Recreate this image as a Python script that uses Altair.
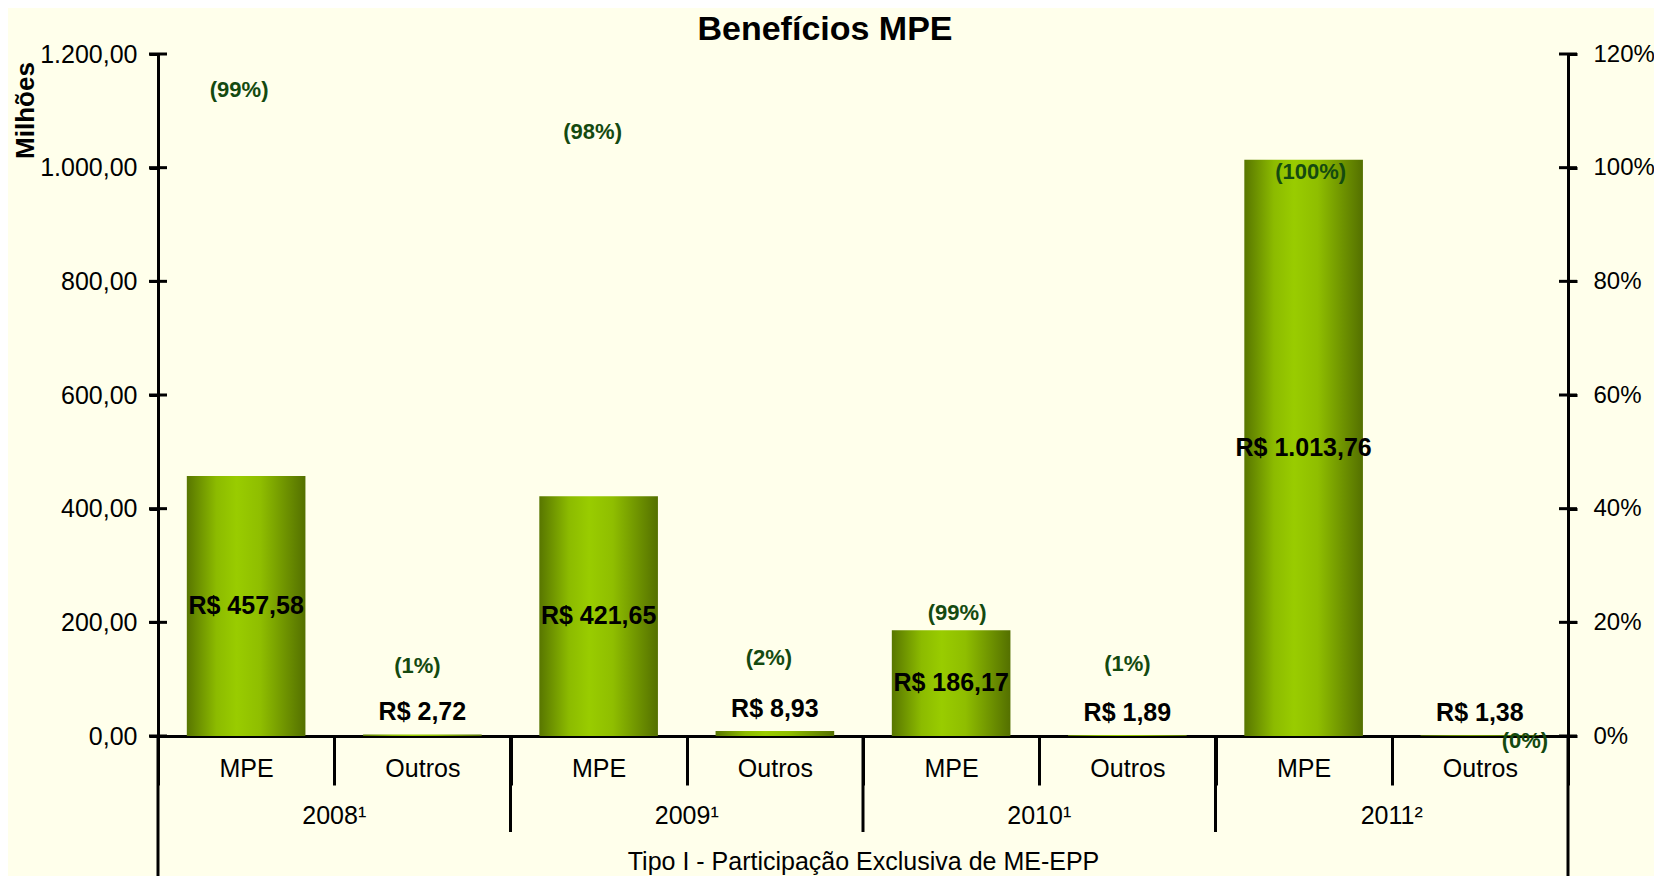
import altair as alt
import pandas as pd

# ---------------- data ----------------
years = ["2008¹", "2009¹", "2010¹", "2011²"]
groups = ["MPE", "Outros"]
values = [457.58, 2.72, 421.65, 8.93, 186.17, 1.89, 1013.76, 1.38]   # R$ milhões
shares = [99, 1, 98, 2, 99, 1, 100, 0]                               # % do ano
# where each (xx%) annotation sits, in units of the right (%) axis,
# and its sideways nudge (px) off the bar centre
share_label_at = [113.7, 12.3, 106.3, 13.7, 21.7, 12.7, 99.2, -0.9]
share_label_nudge = [-7, -5, -6, -6, 6, 0, 7, 45]
left_ticks = [0, 200, 400, 600, 800, 1000, 1200]
right_ticks = [0, 0.2, 0.4, 0.6, 0.8, 1.0, 1.2]

W, H = 1410, 682
FONT = "Liberation Sans"
PCT_COLOR = "#144A10"


def brl(v):
    s = f"{v:,.2f}".replace(",", "#").replace(".", ",").replace("#", ".")
    return f"R$ {s}"


rows = []
for i, yr in enumerate(years):
    for j, g in enumerate(groups):
        k = i * 2 + j
        rows.append(dict(year=yr, group=g, key=f"{yr}|{g}", value=values[k],
                         label=brl(values[k]), pct=f"({shares[k]}%)",
                         pos=share_label_at[k] / 100.0,
                         nudge=share_label_nudge[k]))
df = pd.DataFrame(rows)
keys = list(df["key"])
HALF_STEP = W / len(keys) / 2

xscale = alt.Scale(domain=keys, paddingInner=0, paddingOuter=0)
yleft = alt.Scale(domain=[0, 1200], nice=False, zero=True)
yright = alt.Scale(domain=[0, 1.2], nice=False, zero=True)

x_axis = alt.Axis(
    title="Tipo I - Participação Exclusiva de ME-EPP",
    labelExpr="split(datum.value, '|')[1]",
    labelAngle=0, tickBand="extent", tickSize=49, tickWidth=3,
    tickColor="black", domainColor="black", domainWidth=3,
    labelPadding=-17, labelBaseline="middle", labelFontSize=25,
    labelFont=FONT, labelColor="black",
    titleFontSize=25, titleFontWeight="normal", titleFont=FONT,
    titleColor="black", titleY=125, titleBaseline="middle",
)
yl_axis = alt.Axis(
    title="Milhões", values=left_ticks, grid=False,
    labelExpr="replace(replace(replace(format(datum.value, ',.2f'), ',', '#'), '.', ','), '#', '.')",
    tickSize=9, tickWidth=3, tickColor="black",
    domainColor="black", domainWidth=3, labelPadding=12,
    labelFontSize=25, labelFont=FONT, labelColor="black",
    titleFontSize=26, titleFontWeight="bold", titleFont=FONT,
    titleColor="black", titleAngle=270, titleX=-133, titleY=56,
    titleAlign="center", titleBaseline="middle",
)
yr_axis = alt.Axis(
    orient="right", title=None, values=right_ticks, format=".0%",
    grid=False, tickSize=9, tickWidth=3, tickColor="black",
    domainColor="black", domainWidth=3, labelPadding=16,
    labelFontSize=24, labelFont=FONT, labelColor="black",
)

grad = alt.Gradient(
    gradient="linear",
    stops=[
        alt.GradientStop(color="#587600", offset=0),
        alt.GradientStop(color="#8CBB00", offset=0.25),
        alt.GradientStop(color="#99CC00", offset=0.42),
        alt.GradientStop(color="#8FBE00", offset=0.62),
        alt.GradientStop(color="#547000", offset=1),
    ],
    x1=0, x2=1, y1=0, y2=0,
)


def X(**kw):
    return alt.X("key:N", sort=keys, scale=xscale, axis=x_axis, **kw)


base = alt.Chart(df)

bars = base.mark_bar(color=grad, width={"band": 0.673}).encode(
    x=X(),
    y=alt.Y("value:Q", scale=yleft, axis=yl_axis),
)

mpe_text = base.transform_filter("datum.group == 'MPE'").transform_calculate(
    mid="datum.value / 2"
).mark_text(font=FONT, fontSize=25, fontWeight="bold", color="black",
            baseline="middle").encode(
    x=X(),
    y=alt.Y("mid:Q", scale=yleft, axis=yl_axis),
    text="label:N",
)

out_text = base.transform_filter("datum.group == 'Outros'").mark_text(
    font=FONT, fontSize=25, fontWeight="bold", color="black",
    baseline="middle", dy=-22).encode(
    x=X(),
    y=alt.Y("value:Q", scale=yleft, axis=yl_axis),
    text="label:N",
)

left_tick_in = alt.Chart(pd.DataFrame({"t": left_ticks})).mark_rule(
    color="black", strokeWidth=3).encode(
    x=alt.value(-9), x2=alt.value(9),
    y=alt.Y("t:Q", scale=yleft, axis=yl_axis),
)

year_sep = base.transform_filter(
    f"datum.group == 'MPE' && datum.year != '{years[0]}'"
).mark_rule(color="black", strokeWidth=3).encode(
    x=X(bandPosition=0),
    y=alt.value(H), y2=alt.value(H + 96),
)

year_text = base.transform_filter("datum.group == 'Outros'").mark_text(
    font=FONT, fontSize=25, color="black", baseline="middle").encode(
    x=X(bandPosition=0),
    y=alt.value(H + 80),
    text="year:N",
)

edge = alt.Chart(pd.DataFrame({"a": [0]}))
edge_left = edge.mark_rule(color="black", strokeWidth=3).encode(
    x=alt.value(0), y=alt.value(H), y2=alt.value(H + 150))
edge_right = edge.mark_rule(color="black", strokeWidth=3).encode(
    x=alt.value(W), y=alt.value(H), y2=alt.value(H + 150))

pct_text = base.transform_calculate(
    off=f"datum.nudge + {HALF_STEP}"
).mark_text(font=FONT, fontSize=22, fontWeight="bold",
            color=PCT_COLOR, baseline="middle").encode(
    x=X(bandPosition=0),
    xOffset=alt.XOffset("off:Q", scale=None),
    y=alt.Y("pos:Q", scale=yright, axis=yr_axis),
    text="pct:N",
)

right_tick_in = alt.Chart(pd.DataFrame({"t": right_ticks})).mark_rule(
    color="black", strokeWidth=3).encode(
    x=alt.value(W - 9), x2=alt.value(W + 9),
    y=alt.Y("t:Q", scale=yright, axis=yr_axis),
)

left_layer = alt.layer(bars, mpe_text, out_text, left_tick_in, year_sep,
                       year_text, edge_left, edge_right)
right_layer = alt.layer(pct_text, right_tick_in)

chart = alt.layer(left_layer, right_layer).resolve_scale(
    y="independent"
).properties(
    width=W, height=H,
    title=alt.TitleParams("Benefícios MPE", font=FONT, fontSize=34,
                          fontWeight="bold", color="black", offset=5, dy=10,
                          anchor="middle", dx=-38),
    background="#FFFFEB",
    padding={"left": 150, "top": 46, "right": 86, "bottom": 140},
    autosize=alt.AutoSizeParams(type="none"),
).configure_view(stroke=None)

chart.save("out.html", embed_options={"renderer": "svg", "actions": False})
